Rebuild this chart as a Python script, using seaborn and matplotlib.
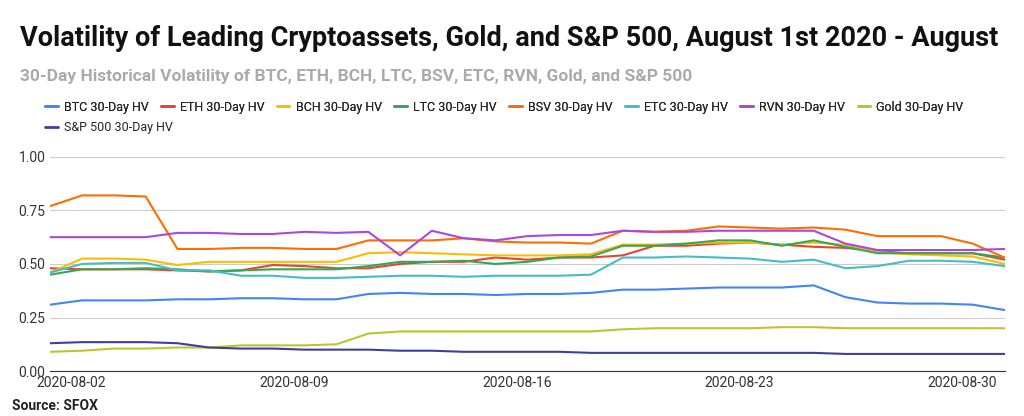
import matplotlib
matplotlib.use("Agg")
import matplotlib.pyplot as plt
import seaborn as sns
import pandas as pd
import numpy as np
import matplotlib.dates as mdates

dates = pd.date_range("2020-08-01 08:00", periods=31, freq="D")
btc = [0.31,0.33,0.33,0.33,0.335,0.335,0.34,0.34,0.335,0.335,0.36,0.365,0.36,0.36,0.355,0.36,0.36,0.365,0.38,0.38,0.385,0.39,0.39,0.39,0.40,0.345,0.32,0.315,0.315,0.31,0.285]
eth = [0.48,0.475,0.475,0.475,0.47,0.465,0.47,0.495,0.49,0.48,0.48,0.50,0.51,0.51,0.53,0.52,0.53,0.53,0.54,0.585,0.585,0.595,0.60,0.59,0.58,0.575,0.56,0.55,0.55,0.55,0.52]
bch = [0.46,0.525,0.525,0.52,0.495,0.51,0.51,0.51,0.51,0.51,0.55,0.555,0.55,0.545,0.54,0.54,0.54,0.545,0.59,0.59,0.595,0.60,0.60,0.59,0.60,0.59,0.555,0.545,0.54,0.535,0.50]
ltc = [0.45,0.475,0.475,0.48,0.475,0.465,0.47,0.475,0.475,0.475,0.49,0.51,0.51,0.515,0.50,0.51,0.53,0.535,0.585,0.585,0.595,0.61,0.61,0.585,0.61,0.58,0.55,0.55,0.55,0.55,0.53]
bsv = [0.77,0.82,0.82,0.815,0.57,0.57,0.575,0.575,0.57,0.57,0.61,0.61,0.61,0.62,0.605,0.60,0.60,0.595,0.655,0.65,0.655,0.675,0.67,0.665,0.67,0.66,0.63,0.63,0.63,0.595,0.53]
etc = [0.46,0.50,0.505,0.505,0.47,0.47,0.445,0.445,0.435,0.435,0.44,0.445,0.445,0.44,0.445,0.445,0.445,0.45,0.53,0.53,0.535,0.53,0.525,0.51,0.52,0.48,0.49,0.515,0.515,0.51,0.49]
rvn = [0.625,0.625,0.625,0.625,0.645,0.645,0.64,0.64,0.65,0.645,0.65,0.54,0.655,0.62,0.61,0.63,0.635,0.635,0.655,0.65,0.65,0.655,0.655,0.655,0.655,0.595,0.565,0.565,0.565,0.565,0.57]
gold = [0.09,0.095,0.105,0.105,0.11,0.11,0.12,0.12,0.12,0.125,0.175,0.185,0.185,0.185,0.185,0.185,0.185,0.185,0.195,0.20,0.20,0.20,0.20,0.205,0.205,0.20,0.20,0.20,0.20,0.20,0.20]
spx = [0.13,0.135,0.135,0.135,0.13,0.11,0.105,0.105,0.10,0.10,0.10,0.095,0.095,0.09,0.09,0.09,0.09,0.085,0.085,0.085,0.085,0.085,0.085,0.085,0.085,0.08,0.08,0.08,0.08,0.08,0.08]

names = ["BTC 30-Day HV","ETH 30-Day HV","BCH 30-Day HV","LTC 30-Day HV","BSV 30-Day HV","ETC 30-Day HV","RVN 30-Day HV","Gold 30-Day HV","S&P 500 30-Day HV"]
series = [btc,eth,bch,ltc,bsv,etc,rvn,gold,spx]
colors = ["#4285F4","#EA4335","#FBBC04","#34A853","#FF6D01","#46BDC6","#AB47E0","#B8C72E","#3D3F9E"]

df = pd.concat([pd.DataFrame({"date":dates,"v":s,"name":n}) for n,s in zip(names,series)])

sns.set_style("white")
plt.rcParams['font.family'] = ['Roboto','DejaVu Sans']
fig = plt.figure(figsize=(10.24,4.16), dpi=100)
ax = fig.add_axes([0.049,0.108,0.932,0.515])
sns.lineplot(data=df, x="date", y="v", hue="name", palette=colors, ax=ax, linewidth=1.5, legend=False)
ax.set_xlim(dates[0], dates[-1])
ax.set_ylim(0,1.0)
ax.set_yticks([0,0.25,0.5,0.75,1.0])
ax.set_yticklabels(["0.00","0.25","0.50","0.75","1.00"])
ax.grid(axis="y", color="#cccccc", lw=0.8)
ax.set_xticks(pd.to_datetime(["2020-08-02","2020-08-09","2020-08-16","2020-08-23","2020-08-30"]))
ax.xaxis.set_major_formatter(mdates.DateFormatter("%Y-%m-%d"))
ax.tick_params(labelsize=10, colors="#333333", length=0)
ax.set_xlabel(""); ax.set_ylabel("")
for s in ["top","right","left"]:
    ax.spines[s].set_visible(False)
ax.spines["bottom"].set_color("#333333")

fig.text(0.02,0.89,"Volatility of Leading Cryptoassets, Gold, and S&P 500, August 1st 2020 - August",
         fontsize=19.5, fontweight="bold", color="#111111")
fig.text(0.02,0.805,"30-Day Historical Volatility of BTC, ETH, BCH, LTC, BSV, ETC, RVN, Gold, and S&P 500",
         fontsize=12.5, fontweight="bold", color="#aaaaaa")
fig.text(0.012,0.015,"Source: SFOX", fontsize=10, fontweight="bold", color="#222222")

from matplotlib.lines import Line2D
handles = [Line2D([0],[0],color=c,lw=2) for c in colors]
leg1 = fig.legend(handles[:8], names[:8], loc="upper left", bbox_to_anchor=(0.033,0.785), ncol=8, frameon=False,
           fontsize=9, handlelength=1.0, columnspacing=1.0, handletextpad=0.5)
fig.add_artist(leg1)
fig.legend(handles[8:], names[8:], loc="upper left", bbox_to_anchor=(0.033,0.735), ncol=1, frameon=False,
           fontsize=9, handlelength=1.0, handletextpad=0.5)
fig.savefig("out.png", dpi=100)
